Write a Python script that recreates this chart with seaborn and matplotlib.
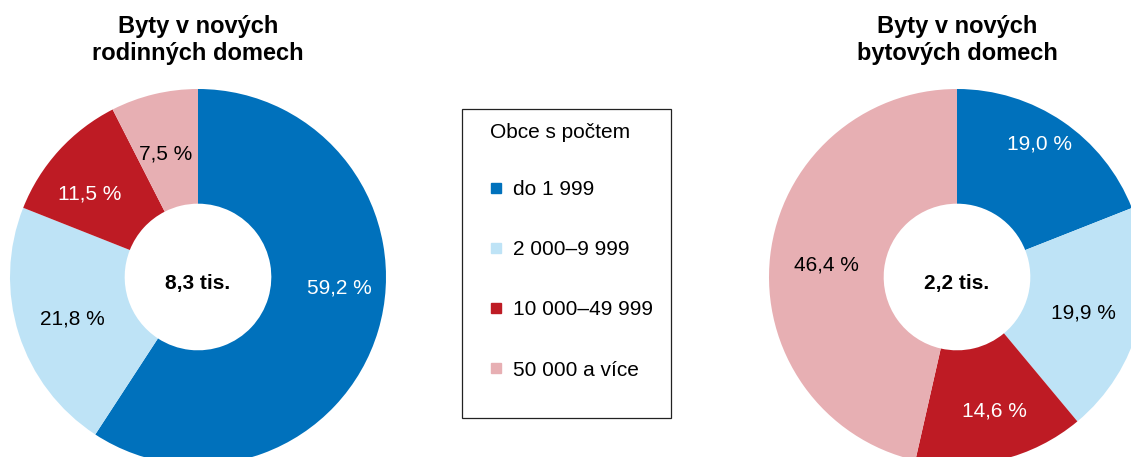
import matplotlib
matplotlib.use("Agg")
import matplotlib.pyplot as plt
from matplotlib.lines import Line2D
from matplotlib.patches import Rectangle
import seaborn as sns

# data
categories = ["do 1 999", "2 000–9 999", "10 000–49 999", "50 000 a více"]
family_share = [59.2, 21.8, 11.5, 7.5]
flat_share = [19.0, 19.9, 14.6, 46.4]
family_total = "8,3 tis."
flat_total = "2,2 tis."
titles = ["Byty v nových\nrodinných domech", "Byty v nových\nbytových domech"]
legend_title = "Obce s počtem"

colors = ["#0071BC", "#BEE3F6", "#BE1B24", "#E7AFB3"]
text_colors = ["white", "black", "white", "black"]

# label positions (axes data units, pie radius 1)
family_pos = [(0.75, -0.06), (-0.67, -0.225), (-0.574, 0.44), (-0.17, 0.653)]
flat_pos = [(0.44, 0.706), (0.67, -0.192), (0.197, -0.712), (-0.697, 0.062)]

sns.set_theme(style="white")
plt.rcParams["font.family"] = ["Liberation Sans", "DejaVu Sans"]
plt.rcParams["text.color"] = "black"

W, H = 1131, 457
fig = plt.figure(figsize=(W / 100, H / 100), dpi=100)

R = 188
HOLE = 0.39


def donut(cx, cy, values, positions, total, title):
    ax = fig.add_axes([(cx - R) / W, (H - cy - R) / H, 2 * R / W, 2 * R / H])
    ax.pie(values, colors=colors, startangle=90, counterclock=False, radius=1,
           wedgeprops=dict(width=1 - HOLE, linewidth=0))
    ax.set_xlim(-1, 1)
    ax.set_ylim(-1, 1)
    ax.set_aspect("equal")
    ax.axis("off")
    for v, (x, y), tc in zip(values, positions, text_colors):
        ax.text(x, y, f"{v:.1f}".replace(".", ",") + " %", ha="center", va="center",
                fontsize=15, color=tc)
    ax.text(0, -0.035, total, ha="center", va="center", fontsize=15,
            fontweight="bold", color="black")
    fig.text(cx / W, 1 - 65 / H, title, ha="center", va="bottom", fontsize=17,
             fontweight="bold", linespacing=1.22, color="black")


donut(198, 277, family_share, family_pos, family_total, titles[0])
donut(957, 277, flat_share, flat_pos, flat_total, titles[1])

# legend box
fig.text(490 / W, 1 - 132 / H, legend_title, ha="left", va="center", fontsize=15,
         color="black")
handles = [Line2D([], [], marker="s", linestyle="", color=c, markersize=7) for c in colors]
leg = fig.legend(handles, categories, loc="upper left",
                 bbox_to_anchor=(480 / W, 1 - 170 / H), frameon=False, fontsize=15,
                 borderpad=0, labelspacing=1.97,
                 handlelength=0.55, handletextpad=0.55)
for t in leg.get_texts():
    t.set_color("black")
fig.patches.append(Rectangle((462 / W, 1 - 418 / H), 209 / W, 309 / H,
                             transform=fig.transFigure, fill=False,
                             edgecolor="#222222", linewidth=0.9))

fig.savefig("out.png", dpi=100)
